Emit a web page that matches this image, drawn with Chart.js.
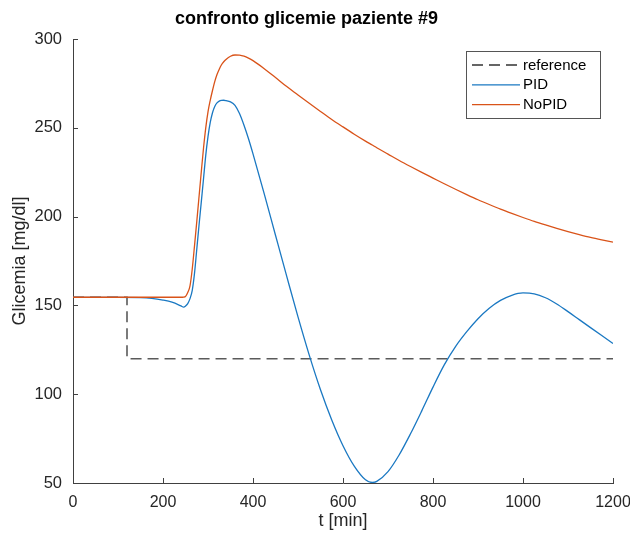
<!DOCTYPE html>
<html>
<head>
<meta charset="utf-8">
<script src="https://cdn.jsdelivr.net/npm/chart.js@4"></script>
<style>
html, body { margin: 0; padding: 0; background: #fff; }
</style>
</head>
<body>
<canvas id="myChart" width="630" height="537"></canvas>
<script>
// sample times [min]
const times = [0, 50, 100, 150, 175, 200, 220, 240, 246, 250, 255,
  260, 265, 270, 275, 280, 285, 290, 295, 300, 305, 310, 315, 320,
  325, 330, 335, 340, 350, 360, 370, 380, 390,
  400, 425, 450, 475, 500, 525, 550, 575, 600, 625, 650, 665, 675,
  700, 725, 750, 775, 800, 825, 850, 875, 900, 925, 950, 975,
  1000, 1025, 1050, 1075, 1100, 1125, 1150, 1175, 1200];

const pidValues = [154.5, 154.5, 154.5, 154.4, 154, 153, 151.8, 149.7, 149, 149.6, 151,
  153.8, 158.5, 168, 181.5, 195, 208, 221.2, 234.5, 245, 253, 258.5, 262, 264,
  265, 265.4, 265.5, 265.3, 264.6, 262.6, 258, 251.4, 243.8,
  235.3, 212.8, 189.5, 166.3, 143.5, 122, 102.5, 85.5, 71, 59.5, 51.8, 50.3, 50.9,
  56.4, 65.9, 77.7, 90.6, 104, 116.5, 126.8, 135.2, 142.5, 148.4, 152.8, 155.7,
  157, 156.5, 154.3, 150.8, 146.5, 142, 137.5, 133, 128.5];

const noPidValues = [154.6, 154.6, 154.6, 154.6, 154.6, 154.6, 154.6, 154.6, 154.7, 155, 157.2,
  161, 170.5, 183.5, 197, 211, 225, 238.5, 250, 259, 265.5, 271, 276, 280,
  283, 285.5, 287.2, 288.5, 290.3, 291, 290.9, 290.3, 289.2,
  287.8, 283.3, 278.3, 273.2, 268.5, 263.8, 259.2, 254.7, 250.5, 246.4, 242.5, 240.3, 238.8,
  235.2, 231.6, 228.2, 224.9, 221.7, 218.5, 215.4, 212.4, 209.5, 206.8, 204.2, 201.8,
  199.5, 197.3, 195.3, 193.4, 191.6, 189.9, 188.3, 186.9, 185.6];

const refTimes = [0, 120, 120, 1200];
const refValues = [154.6, 154.6, 120, 120];

const xTicks = [0, 200, 400, 600, 800, 1000, 1200];
const yTicks = [50, 100, 150, 200, 250, 300];

const axisColor = '#404040';
const textColor = '#262626';
const fontFamily = '"Liberation Sans", Arial, sans-serif';

Chart.defaults.font.family = fontFamily;
Chart.defaults.color = textColor;

function pairs(xs, ys) {
    return xs.map((t, i) => ({ x: t, y: ys[i] }));
}

// MATLAB style: ticks pointing inwards + boxed legend inside the axes
const matlabBits = {
    id: 'matlabBits',
    afterDatasetsDraw(chart) {
        const { ctx, chartArea: a, scales: { x, y } } = chart;
        ctx.save();
        ctx.strokeStyle = axisColor;
        ctx.lineWidth = 1;
        ctx.beginPath();
        x.ticks.forEach(t => {
            const px = Math.round(x.getPixelForValue(t.value)) + 0.5;
            ctx.moveTo(px, a.bottom);
            ctx.lineTo(px, a.bottom - 5);
        });
        y.ticks.forEach(t => {
            const py = Math.round(y.getPixelForValue(t.value)) + 0.5;
            ctx.moveTo(a.left, py);
            ctx.lineTo(a.left + 5, py);
        });
        ctx.stroke();

        // legend
        const bx = 466.5, by = 51.5, bw = 134, bh = 67;
        ctx.fillStyle = '#fff';
        ctx.fillRect(bx, by, bw, bh);
        ctx.strokeStyle = '#555';
        ctx.strokeRect(bx, by, bw, bh);
        ctx.font = '15px ' + fontFamily;
        ctx.textBaseline = 'middle';
        ctx.fillStyle = '#000';
        chart.data.datasets.forEach((ds, i) => {
            const ly = 65 + i * 19.8;
            ctx.beginPath();
            ctx.strokeStyle = ds.legendColor || ds.borderColor;
            ctx.lineWidth = ds.borderWidth;
            ctx.setLineDash(ds.borderDash || []);
            ctx.moveTo(472, ly);
            ctx.lineTo(520, ly);
            ctx.stroke();
            ctx.setLineDash([]);
            ctx.fillText(ds.label, 523, ly + 0.5);
        });
        ctx.restore();
    }
};

new Chart(document.getElementById('myChart'), {
    type: 'line',
    data: {
        datasets: [{
            label: 'reference',
            data: pairs(refTimes, refValues),
            borderColor: '#5a5a5a',
            legendColor: '#333',
            borderWidth: 1.6,
            borderDash: [11, 6],
            tension: 0,
            order: 3
        }, {
            label: 'PID',
            data: pairs(times, pidValues),
            borderColor: '#1a78c2',
            borderWidth: 1.3,
            cubicInterpolationMode: 'monotone',
            order: 2
        }, {
            label: 'NoPID',
            data: pairs(times, noPidValues),
            borderColor: '#D95319',
            borderWidth: 1.3,
            cubicInterpolationMode: 'monotone',
            order: 1
        }]
    },
    options: {
        responsive: false,
        animation: false,
        elements: { point: { radius: 0 } },
        layout: { padding: { left: 0, right: 17, top: 0, bottom: 0 } },
        plugins: {
            legend: { display: false },
            tooltip: { enabled: false },
            title: {
                display: true,
                text: 'confronto glicemie paziente #9',
                color: '#000',
                font: { size: 18, weight: 'bold' },
                padding: { top: 8, bottom: 9.4 }
            }
        },
        scales: {
            x: {
                type: 'linear',
                min: 0,
                max: 1200,
                afterBuildTicks: s => { s.ticks = xTicks.map(v => ({ value: v })); },
                afterFit: s => { s.height = 54; s.paddingLeft = 0; s.paddingRight = 0; },
                grid: { display: false, drawTicks: false },
                border: { display: true, color: axisColor, width: 1 },
                ticks: { padding: 10, font: { size: 16 }, maxRotation: 0, autoSkip: false,
                         callback: v => String(v) },
                title: { display: true, text: 't [min]', font: { size: 18 }, padding: { top: 0, bottom: 5 } }
            },
            y: {
                type: 'linear',
                min: 50,
                max: 300,
                afterBuildTicks: s => { s.ticks = yTicks.map(v => ({ value: v })); },
                afterFit: s => { s.width = 73; },
                grid: { display: false, drawTicks: false },
                border: { display: true, color: axisColor, width: 1 },
                ticks: { padding: 11, font: { size: 16.5 }, autoSkip: false,
                         callback: v => String(v) },
                title: { display: true, text: 'Glicemia [mg/dl]', font: { size: 18 }, padding: { top: 9, bottom: 0 } }
            }
        }
    },
    plugins: [matlabBits]
});
</script>
</body>
</html>
